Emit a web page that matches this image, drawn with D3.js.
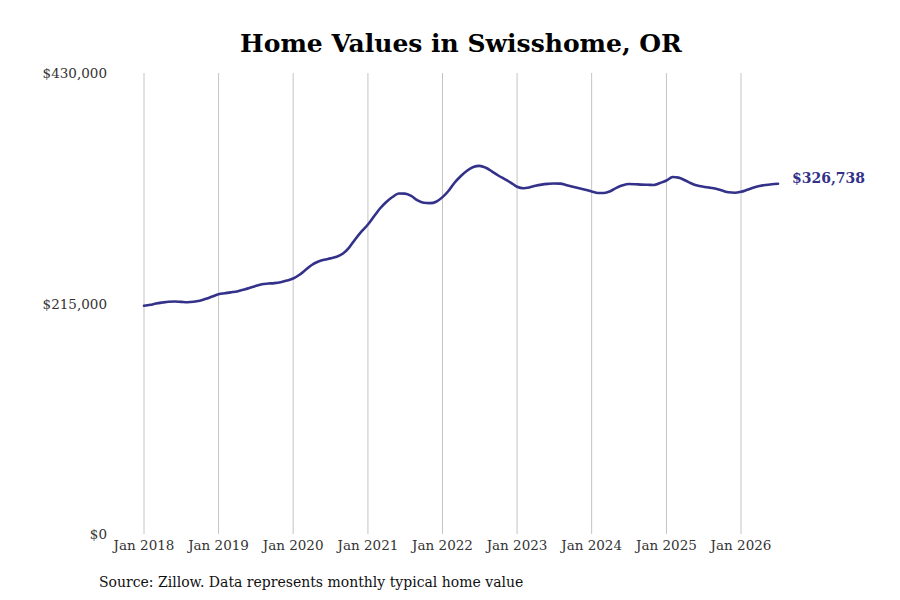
<!DOCTYPE html>
<html>
  <head>
    <meta charset="utf-8">
    <title>Home Values in Swisshome, OR</title>
    <script src="https://d3js.org/d3.v7.min.js"></script>
    <style>
      body { margin: 0; background: #fff; }
      svg { display: block; }
      text { font-family: "DejaVu Serif", serif; }
    </style>
  </head>
  <body>
    <svg width="900" height="600"></svg>
    <script>
      // monthly typical home value, starting Jan 2018
      var startMonth = "2018-01";
      var values = [
        212900, 213800, 215000, 215900, 216600, 216800, 216500, 216200, 216600, 217600, 219400, 221500,
        223700, 224600, 225400, 226200, 227800, 229500, 231300, 233000, 233600, 234000, 234900, 236400,
        238300, 241800, 246200, 250900, 253900, 255800, 257100, 258600, 261600, 267200, 275200, 282200,
        288700, 296600, 303600, 309700, 314300, 317600, 317500, 315300, 311100, 308900, 308600, 309900,
        314200, 320400, 327600, 333900, 338800, 342300, 343400, 341600, 338100, 334400, 331100, 327800,
        323900, 322500, 323200, 324800, 325900, 326600, 327000, 326800, 325300, 323900, 322500, 321100,
        319500, 318100, 318100, 319700, 322900, 325300, 326500, 326300, 325900, 325700, 325500, 327400,
        329700, 333000, 332400, 330000, 327200, 325000, 323900, 323100, 322000, 320300, 318700, 318300,
        319200, 321100, 322900, 324500, 325600, 326300, 326738
      ];
      var yTicks = [0, 215000, 430000];
      var xTickYears = [2018, 2019, 2020, 2021, 2022, 2023, 2024, 2025, 2026];

      var svg = d3.select("svg");
      var lineColor = "#33318a";

      var parse = d3.timeParse("%Y-%m");
      var t0 = parse(startMonth);
      var data = values.map(function(v, i) {
        return { date: d3.timeMonth.offset(t0, i), value: v };
      });

      var x = d3.scaleTime()
        .domain([new Date(2018, 0, 1), new Date(2026, 0, 1)])
        .range([144, 741]);
      var y = d3.scaleLinear()
        .domain([0, 430000])
        .range([534, 73]);

      // title
      svg.append("text")
        .attr("x", 461)
        .attr("y", 52)
        .attr("text-anchor", "middle")
        .attr("font-size", "25px")
        .attr("font-weight", "bold")
        .text("Home Values in Swisshome, OR");

      // vertical gridlines
      svg.append("g")
        .selectAll("line")
        .data(xTickYears)
        .enter().append("line")
        .attr("x1", function(d) { return x(new Date(d, 0, 1)); })
        .attr("x2", function(d) { return x(new Date(d, 0, 1)); })
        .attr("y1", y(430000))
        .attr("y2", y(0))
        .attr("stroke", "#c4c4c4")
        .attr("stroke-width", 1);

      // x tick labels
      svg.append("g")
        .selectAll("text")
        .data(xTickYears)
        .enter().append("text")
        .attr("x", function(d) { return x(new Date(d, 0, 1)); })
        .attr("y", 550)
        .attr("text-anchor", "middle")
        .attr("font-size", "13.5px")
        .attr("fill", "#333")
        .text(function(d) { return d3.timeFormat("%b %Y")(new Date(d, 0, 1)); });

      // y tick labels
      var fmt = d3.format(",");
      svg.append("g")
        .selectAll("text")
        .data(yTicks)
        .enter().append("text")
        .attr("x", 107)
        .attr("y", function(d) { return y(d) + 5; })
        .attr("text-anchor", "end")
        .attr("font-size", "13.5px")
        .attr("fill", "#333")
        .text(function(d) { return "$" + fmt(d); });

      // line
      var line = d3.line()
        .x(function(d) { return x(d.date); })
        .y(function(d) { return y(d.value); })
        .curve(d3.curveMonotoneX);

      svg.append("path")
        .datum(data)
        .attr("fill", "none")
        .attr("stroke", lineColor)
        .attr("stroke-width", 2.6)
        .attr("stroke-linejoin", "round")
        .attr("stroke-linecap", "round")
        .attr("d", line);

      // end label
      var last = data[data.length - 1];
      svg.append("text")
        .attr("x", x(last.date) + 14)
        .attr("y", y(last.value) - 1)
        .attr("font-size", "14px")
        .attr("font-weight", "bold")
        .attr("fill", lineColor)
        .text("$" + fmt(last.value));

      // source note
      svg.append("text")
        .attr("x", 99)
        .attr("y", 587)
        .attr("font-size", "14px")
        .attr("fill", "#111")
        .text("Source: Zillow. Data represents monthly typical home value");
    </script>
  </body>
</html>
